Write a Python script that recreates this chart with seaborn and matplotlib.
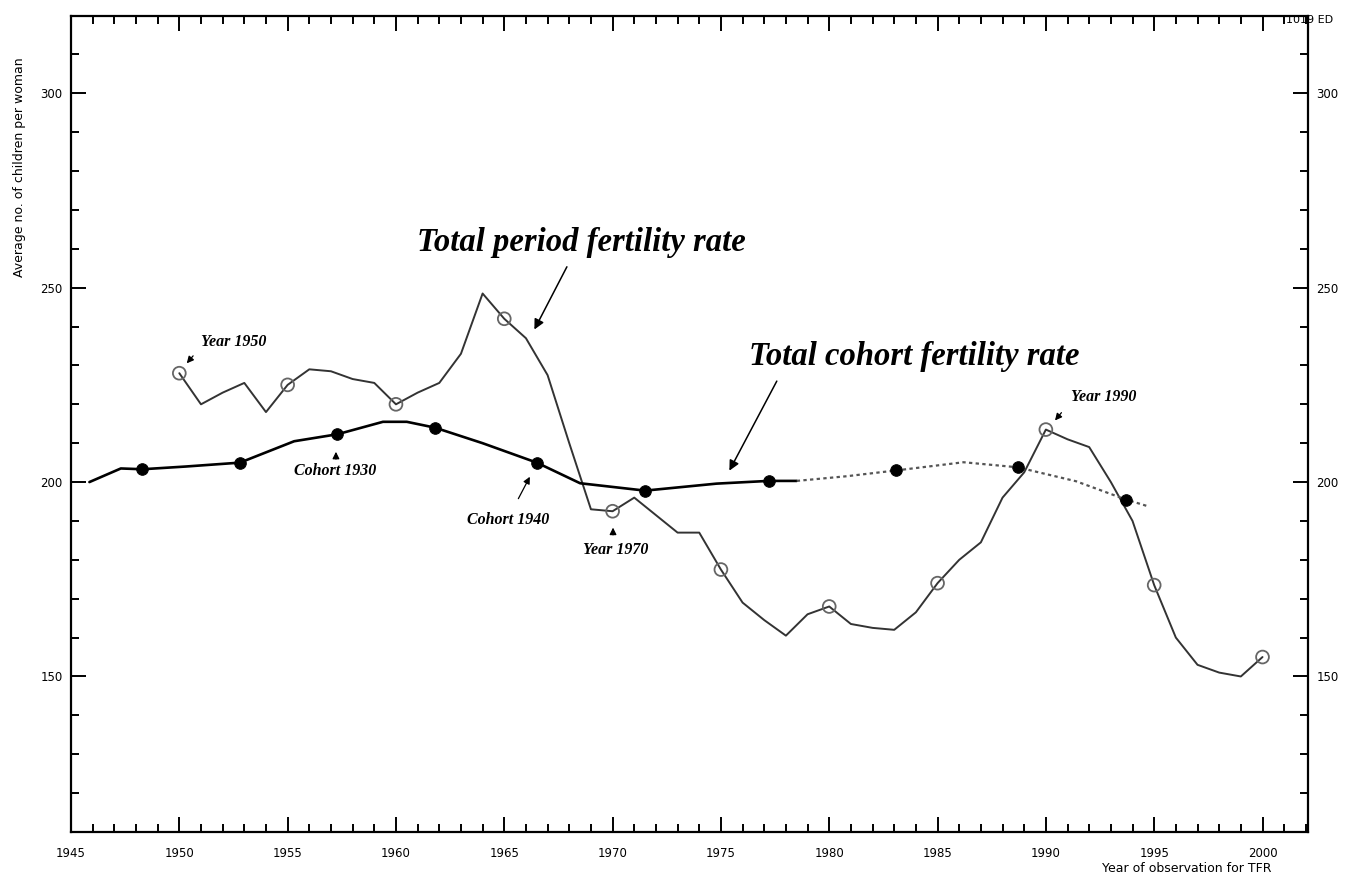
import seaborn as sns
import matplotlib.pyplot as plt
from matplotlib.ticker import MultipleLocator, FuncFormatter

# total period fertility rate, one value per year of observation
years = list(range(1950, 2001))
period_tfr = [2.28, 2.20, 2.23, 2.255, 2.18, 2.25, 2.29, 2.285, 2.265, 2.255,
              2.20, 2.23, 2.255, 2.33, 2.485, 2.42, 2.37, 2.275, 2.10, 1.93,
              1.925, 1.96, 1.915, 1.87, 1.87, 1.775, 1.69, 1.645, 1.605, 1.66,
              1.68, 1.635, 1.625, 1.62, 1.665, 1.74, 1.80, 1.845, 1.96, 2.025,
              2.135, 2.11, 2.09, 2.00, 1.90, 1.735, 1.60, 1.53, 1.51, 1.50, 1.55]
marked_years = list(range(1950, 2001, 5))
marked_tfr = [period_tfr[years.index(y)] for y in marked_years]

# total cohort fertility rate, plotted at year of observation
cohort_x = [1945.85, 1947.3, 1948.3, 1950.3, 1952.8, 1955.3, 1957.3, 1959.4,
            1960.5, 1961.8, 1964.0, 1966.5, 1968.5, 1971.5, 1974.8, 1977.2, 1978.5]
cohort_y = [2.00, 2.035, 2.033, 2.04, 2.05, 2.105, 2.123, 2.155,
            2.155, 2.14, 2.10, 2.05, 1.997, 1.978, 1.996, 2.003, 2.003]
# incomplete cohorts (estimated), dotted
cohort_est_x = [1978.5, 1980.8, 1983.1, 1986.2, 1988.7, 1991.4, 1993.7, 1994.7]
cohort_est_y = [2.003, 2.015, 2.03, 2.051, 2.038, 2.002, 1.955, 1.938]
cohort_dot_x = [1948.3, 1952.8, 1957.3, 1961.8, 1966.5, 1971.5, 1977.2, 1983.1, 1988.7, 1993.7]
cohort_dot_y = [2.033, 2.05, 2.123, 2.14, 2.05, 1.978, 2.003, 2.03, 2.038, 1.955]

sns.set_style("ticks")
plt.rcParams['font.family'] = ['DejaVu Sans']
plt.rcParams['text.color'] = 'black'
plt.rcParams['xtick.color'] = 'black'
plt.rcParams['ytick.color'] = 'black'

fig = plt.figure(figsize=(13.46, 8.84), dpi=100)
ax = fig.add_axes([71 / 1346, 52 / 884, 1237 / 1346, 816.5 / 884])

sns.lineplot(x=years, y=period_tfr, ax=ax, color="#333333", lw=1.4,
             sort=False, estimator=None)
sns.lineplot(x=cohort_x, y=cohort_y, ax=ax, color="black", lw=1.9,
             sort=False, estimator=None)
sns.lineplot(x=cohort_est_x, y=cohort_est_y, ax=ax, color="#555555", lw=1.6,
             linestyle=(0, (1.5, 1.5)), sort=False, estimator=None)
sns.scatterplot(x=marked_years, y=marked_tfr, ax=ax, marker="o", s=85,
                facecolor="none", edgecolor="#666666", linewidth=1.3, zorder=5)
sns.scatterplot(x=cohort_dot_x, y=cohort_dot_y, ax=ax, marker="o", s=70,
                color="black", edgecolor="black", zorder=6)

ax.set_xlim(1945, 2002.1)
ax.set_ylim(1.1, 3.2)
ax.xaxis.set_major_locator(MultipleLocator(5))
ax.xaxis.set_minor_locator(MultipleLocator(1))
ax.yaxis.set_major_locator(MultipleLocator(0.5))
ax.yaxis.set_minor_locator(MultipleLocator(0.1))
ax.yaxis.set_major_formatter(FuncFormatter(lambda v, p: f"{v * 100:.0f}"))
ax.tick_params(which="both", direction="in", top=True, right=True,
               labelright=True, width=1.4, color="black", labelsize=8.5,
               labelcolor="black")
ax.tick_params(which="major", length=11, pad=6)
ax.tick_params(which="minor", length=6)
ax.tick_params(axis="x", which="major", pad=11)
for s in ax.spines.values():
    s.set_linewidth(1.6)
    s.set_color("black")
ax.set_xlabel("")
ax.set_ylabel("")

fig.text(20 / 1346, 1 - 57 / 884, "Average no. of children per woman",
         rotation=90, ha="center", va="top", fontsize=9)
fig.text(1272 / 1346, 1 - 868 / 884, "Year of observation for TFR",
         ha="right", va="center", fontsize=9)
fig.text(1310 / 1346, 1 - 20 / 884, "1019 ED", ha="center", va="center",
         fontsize=8)

big = dict(family="Liberation Serif", weight="bold", style="italic", fontsize=23.5)
small = dict(family="Liberation Serif", weight="bold", style="italic", fontsize=11.5)
arrow = dict(arrowstyle="-|>", color="black", lw=1.1, mutation_scale=15)
arrow_s = dict(arrowstyle="-|>", color="black", lw=0.9, mutation_scale=10)

ax.text(1968.55, 2.616, "Total period fertility rate", ha="center", va="center", **big)
ax.annotate("", xy=(1966.33, 2.386), xytext=(1967.95, 2.56), arrowprops=arrow)
ax.text(1983.92, 2.322, "Total cohort fertility rate", ha="center", va="center", **big)
ax.annotate("", xy=(1975.33, 2.023), xytext=(1977.64, 2.266), arrowprops=arrow)

ax.text(1952.53, 2.36, "Year 1950", ha="center", va="center", **small)
ax.annotate("", xy=(1950.26, 2.30), xytext=(1950.72, 2.33), arrowprops=arrow_s)
ax.text(1957.19, 2.028, "Cohort 1930", ha="center", va="center", **small)
ax.annotate("", xy=(1957.23, 2.085), xytext=(1957.23, 2.052), arrowprops=arrow_s)
ax.text(1965.18, 1.903, "Cohort 1940", ha="center", va="center", **small)
ax.annotate("", xy=(1966.24, 2.02), xytext=(1965.59, 1.951), arrowprops=arrow_s)
ax.text(1970.12, 1.826, "Year 1970", ha="center", va="center", **small)
ax.annotate("", xy=(1970.02, 1.89), xytext=(1970.02, 1.857), arrowprops=arrow_s)
ax.text(1992.65, 2.22, "Year 1990", ha="center", va="center", **small)
ax.annotate("", xy=(1990.34, 2.153), xytext=(1990.8, 2.184), arrowprops=arrow_s)

fig.savefig("out.png", dpi=100)
